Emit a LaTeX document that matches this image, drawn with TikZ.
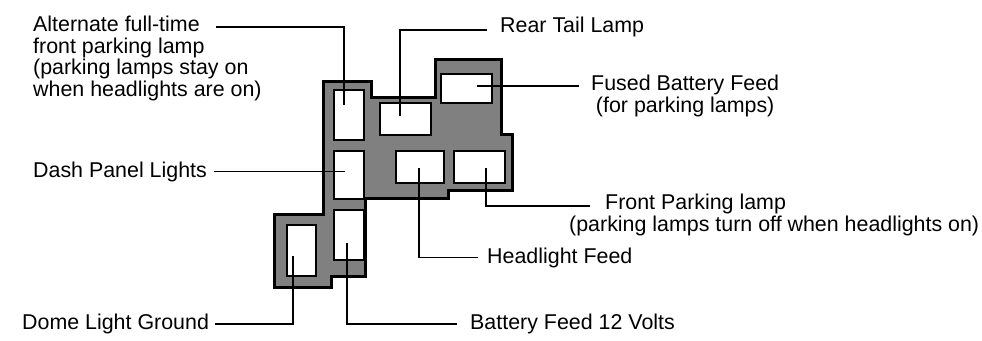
\documentclass[tikz,border=0pt]{standalone}
\usepackage{fontspec}
\setmainfont{Liberation Sans}
\definecolor{housing}{HTML}{808080}
\begin{document}
\begin{tikzpicture}[x=1pt,y=-1pt,font=\fontsize{21.4}{21.7}\selectfont,
	lampwin/.style={draw=black,fill=white,line width=2.4pt,inner sep=0pt,anchor=north west},
	lamplabel/.style={inner sep=0pt,anchor=base west,align=left},
	leader/.style={line width=1.9pt,line cap=butt}]
	\useasboundingbox (0,0) rectangle (982,340);

	%connector body
	\draw[fill=housing,line width=3pt,line join=miter] (323,81) -- (371,81) -- (371,97) -- (435,97) -- (435,59) -- (501,59) -- (501,134) -- (512,134) -- (512,190) -- (448,190) -- (448,198) -- (365,198) -- (365,276) -- (331,276) -- (331,287) -- (274,287) -- (274,214) -- (323,214) -- cycle;

	%lamp windows
	\node[lampwin,minimum width=30,minimum height=50] (altwin) at (333,89) {};
	\node[lampwin,minimum width=51,minimum height=32] (rearwin) at (379,102) {};
	\node[lampwin,minimum width=51,minimum height=29] (fusedwin) at (440,73) {};
	\node[lampwin,minimum width=30,minimum height=48] (dashwin) at (333,150) {};
	\node[lampwin,minimum width=48,minimum height=32] (headwin) at (395,150) {};
	\node[lampwin,minimum width=51,minimum height=32] (frontwin) at (453,150) {};
	\node[lampwin,minimum width=30,minimum height=50] (battwin) at (333,209) {};
	\node[lampwin,minimum width=29,minimum height=51] (domewin) at (286,224) {};

	%labels
	\node[lamplabel] (altlabel) at (33,96.5) {Alternate full-time\\front parking lamp\\(parking lamps stay on\\when headlights are on)};
	\node[lamplabel] (rearlabel) at (500,32) {Rear Tail Lamp};
	\node[lamplabel,align=center] (fusedlabel) at (591,112.5) {Fused Battery Feed\\(for parking lamps)};
	\node[lamplabel] (dashlabel) at (33,177) {Dash Panel Lights};
	\node[lamplabel] (frontlabel) at (569,231) {\hspace*{36pt}Front Parking lamp\\(parking lamps turn off when headlights on)};
	\node[lamplabel] (headlabel) at (487,263) {Headlight Feed};
	\node[lamplabel] (battlabel) at (470,329.5) {Battery Feed 12 Volts};
	\node[lamplabel] (domelabel) at (22,329.5) {Dome Light Ground};

	%leader ends
	\coordinate (altstart) at (216,27);
	\coordinate (altend) at (344,105);
	\coordinate (rearend) at (400,116);
	\coordinate (fusedend) at (477,86);
	\coordinate (dashend) at (345,171);
	\coordinate (headend) at (419,168);
	\coordinate (frontstart) at (590,206);
	\coordinate (frontend) at (486,168);
	\coordinate (battend) at (347,243);
	\coordinate (domeend) at (293,256);

	%leaders
	\draw[leader] (altstart) -| (altend);
	\draw[leader] ([xshift=-13pt,yshift=-3.5pt]rearlabel.west) -| (rearend);
	\draw[leader] ([xshift=-12pt,yshift=10pt]fusedlabel.west) -- ([yshift=10pt]fusedlabel.west -| fusedend);
	\draw[leader] ([xshift=7pt]dashlabel.east) -- (dashlabel.east -| dashend);
	\draw[leader] ([xshift=-9pt]headlabel.west) -| (headend);
	\draw[leader] (frontstart) -| (frontend);
	\draw[leader] ([xshift=-13pt]battlabel.west) -| (battend);
	\draw[leader] ([xshift=6pt]domelabel.east) -| (domeend);
\end{tikzpicture}
\end{document}
